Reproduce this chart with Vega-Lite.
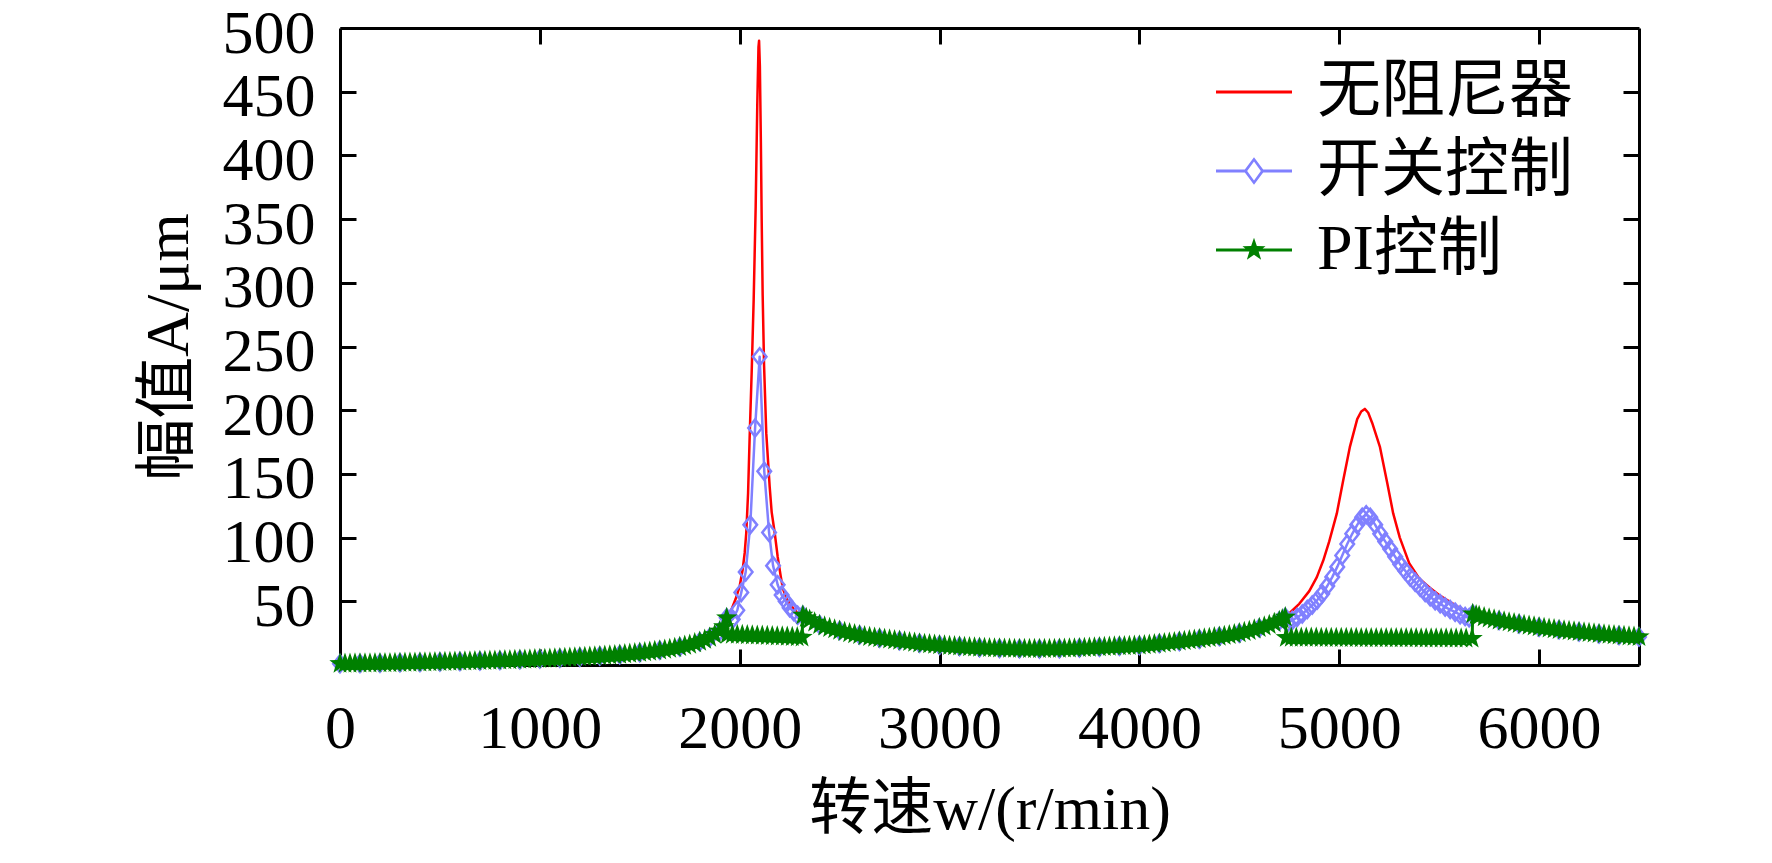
{
  "$schema": "https://vega.github.io/schema/vega-lite/v6.json",
  "width": 1299,
  "height": 637,
  "autosize": {"type": "none"},
  "padding": {"left": 340, "top": 28, "right": 133, "bottom": 198},
  "background": "white",
  "data": {
    "values": [
      {"s": "无阻尼器", "w": 0, "A": 1.0}, {"s": "无阻尼器", "w": 100, "A": 1.2}, {"s": "无阻尼器", "w": 200, "A": 1.4}, {"s": "无阻尼器", "w": 300, "A": 1.7},
      {"s": "无阻尼器", "w": 400, "A": 2.0}, {"s": "无阻尼器", "w": 500, "A": 2.3}, {"s": "无阻尼器", "w": 600, "A": 2.7}, {"s": "无阻尼器", "w": 700, "A": 3.1},
      {"s": "无阻尼器", "w": 800, "A": 3.6}, {"s": "无阻尼器", "w": 900, "A": 4.1}, {"s": "无阻尼器", "w": 1000, "A": 4.7}, {"s": "无阻尼器", "w": 1100, "A": 5.3},
      {"s": "无阻尼器", "w": 1200, "A": 6.1}, {"s": "无阻尼器", "w": 1300, "A": 7.0}, {"s": "无阻尼器", "w": 1400, "A": 8.1}, {"s": "无阻尼器", "w": 1500, "A": 9.6},
      {"s": "无阻尼器", "w": 1600, "A": 11.5}, {"s": "无阻尼器", "w": 1700, "A": 14.2}, {"s": "无阻尼器", "w": 1800, "A": 18.3}, {"s": "无阻尼器", "w": 1850, "A": 21.5},
      {"s": "无阻尼器", "w": 1900, "A": 26.5}, {"s": "无阻尼器", "w": 1925, "A": 31.5}, {"s": "无阻尼器", "w": 1940, "A": 38}, {"s": "无阻尼器", "w": 1960, "A": 44},
      {"s": "无阻尼器", "w": 1980, "A": 52}, {"s": "无阻尼器", "w": 2000, "A": 62}, {"s": "无阻尼器", "w": 2015, "A": 75}, {"s": "无阻尼器", "w": 2025, "A": 88},
      {"s": "无阻尼器", "w": 2033, "A": 104}, {"s": "无阻尼器", "w": 2042, "A": 135}, {"s": "无阻尼器", "w": 2050, "A": 180}, {"s": "无阻尼器", "w": 2060, "A": 230},
      {"s": "无阻尼器", "w": 2070, "A": 287}, {"s": "无阻尼器", "w": 2080, "A": 360}, {"s": "无阻尼器", "w": 2088, "A": 440}, {"s": "无阻尼器", "w": 2094, "A": 485},
      {"s": "无阻尼器", "w": 2097, "A": 490}, {"s": "无阻尼器", "w": 2101, "A": 470}, {"s": "无阻尼器", "w": 2106, "A": 410}, {"s": "无阻尼器", "w": 2110, "A": 350},
      {"s": "无阻尼器", "w": 2115, "A": 290}, {"s": "无阻尼器", "w": 2122, "A": 235}, {"s": "无阻尼器", "w": 2133, "A": 182}, {"s": "无阻尼器", "w": 2150, "A": 140},
      {"s": "无阻尼器", "w": 2160, "A": 120}, {"s": "无阻尼器", "w": 2175, "A": 104}, {"s": "无阻尼器", "w": 2190, "A": 85}, {"s": "无阻尼器", "w": 2205, "A": 70},
      {"s": "无阻尼器", "w": 2216, "A": 60}, {"s": "无阻尼器", "w": 2235, "A": 52}, {"s": "无阻尼器", "w": 2260, "A": 46}, {"s": "无阻尼器", "w": 2290, "A": 41},
      {"s": "无阻尼器", "w": 2316, "A": 39}, {"s": "无阻尼器", "w": 2400, "A": 31.5}, {"s": "无阻尼器", "w": 2500, "A": 27}, {"s": "无阻尼器", "w": 2600, "A": 23.5},
      {"s": "无阻尼器", "w": 2700, "A": 21}, {"s": "无阻尼器", "w": 2800, "A": 19}, {"s": "无阻尼器", "w": 2900, "A": 17}, {"s": "无阻尼器", "w": 3000, "A": 15.6},
      {"s": "无阻尼器", "w": 3100, "A": 14.5}, {"s": "无阻尼器", "w": 3200, "A": 13.6}, {"s": "无阻尼器", "w": 3300, "A": 13}, {"s": "无阻尼器", "w": 3400, "A": 12.7},
      {"s": "无阻尼器", "w": 3500, "A": 12.6}, {"s": "无阻尼器", "w": 3600, "A": 12.8}, {"s": "无阻尼器", "w": 3700, "A": 13.3}, {"s": "无阻尼器", "w": 3800, "A": 14},
      {"s": "无阻尼器", "w": 3900, "A": 14.7}, {"s": "无阻尼器", "w": 4000, "A": 15.3}, {"s": "无阻尼器", "w": 4100, "A": 16.8}, {"s": "无阻尼器", "w": 4200, "A": 18.5},
      {"s": "无阻尼器", "w": 4300, "A": 20.3}, {"s": "无阻尼器", "w": 4400, "A": 22.3}, {"s": "无阻尼器", "w": 4500, "A": 25}, {"s": "无阻尼器", "w": 4600, "A": 29},
      {"s": "无阻尼器", "w": 4700, "A": 34.5}, {"s": "无阻尼器", "w": 4730, "A": 37.5}, {"s": "无阻尼器", "w": 4760, "A": 42}, {"s": "无阻尼器", "w": 4800, "A": 48},
      {"s": "无阻尼器", "w": 4850, "A": 58}, {"s": "无阻尼器", "w": 4888, "A": 69}, {"s": "无阻尼器", "w": 4920, "A": 82}, {"s": "无阻尼器", "w": 4950, "A": 97},
      {"s": "无阻尼器", "w": 4988, "A": 119}, {"s": "无阻尼器", "w": 5020, "A": 145}, {"s": "无阻尼器", "w": 5053, "A": 171}, {"s": "无阻尼器", "w": 5090, "A": 193},
      {"s": "无阻尼器", "w": 5110, "A": 199}, {"s": "无阻尼器", "w": 5128, "A": 201}, {"s": "无阻尼器", "w": 5145, "A": 198}, {"s": "无阻尼器", "w": 5165, "A": 190},
      {"s": "无阻尼器", "w": 5204, "A": 171}, {"s": "无阻尼器", "w": 5240, "A": 143}, {"s": "无阻尼器", "w": 5270, "A": 119}, {"s": "无阻尼器", "w": 5303, "A": 100},
      {"s": "无阻尼器", "w": 5350, "A": 80}, {"s": "无阻尼器", "w": 5400, "A": 68}, {"s": "无阻尼器", "w": 5450, "A": 61}, {"s": "无阻尼器", "w": 5500, "A": 55},
      {"s": "无阻尼器", "w": 5550, "A": 50}, {"s": "无阻尼器", "w": 5600, "A": 45}, {"s": "无阻尼器", "w": 5640, "A": 42}, {"s": "无阻尼器", "w": 5668, "A": 40},
      {"s": "无阻尼器", "w": 5800, "A": 35}, {"s": "无阻尼器", "w": 5900, "A": 32.2}, {"s": "无阻尼器", "w": 6000, "A": 29.7}, {"s": "无阻尼器", "w": 6100, "A": 27.6},
      {"s": "无阻尼器", "w": 6200, "A": 25.9}, {"s": "无阻尼器", "w": 6300, "A": 24.4}, {"s": "无阻尼器", "w": 6400, "A": 23.1}, {"s": "无阻尼器", "w": 6500, "A": 22},

      {"s": "开关控制", "w": 0, "A": 1.0}, {"s": "开关控制", "w": 100, "A": 1.2}, {"s": "开关控制", "w": 200, "A": 1.4}, {"s": "开关控制", "w": 300, "A": 1.7},
      {"s": "开关控制", "w": 400, "A": 2.0}, {"s": "开关控制", "w": 500, "A": 2.3}, {"s": "开关控制", "w": 600, "A": 2.7}, {"s": "开关控制", "w": 700, "A": 3.1},
      {"s": "开关控制", "w": 800, "A": 3.6}, {"s": "开关控制", "w": 900, "A": 4.1}, {"s": "开关控制", "w": 1000, "A": 4.7}, {"s": "开关控制", "w": 1100, "A": 5.3},
      {"s": "开关控制", "w": 1200, "A": 6.1}, {"s": "开关控制", "w": 1300, "A": 7.0}, {"s": "开关控制", "w": 1400, "A": 8.1}, {"s": "开关控制", "w": 1500, "A": 9.6},
      {"s": "开关控制", "w": 1600, "A": 11.5}, {"s": "开关控制", "w": 1700, "A": 14.2}, {"s": "开关控制", "w": 1800, "A": 18.3}, {"s": "开关控制", "w": 1850, "A": 21.5},
      {"s": "开关控制", "w": 1900, "A": 26.5}, {"s": "开关控制", "w": 1935, "A": 37}, {"s": "开关控制", "w": 1965, "A": 36}, {"s": "开关控制", "w": 1988, "A": 43},
      {"s": "开关控制", "w": 2008, "A": 57}, {"s": "开关控制", "w": 2030, "A": 73}, {"s": "开关控制", "w": 2053, "A": 110}, {"s": "开关控制", "w": 2077, "A": 186},
      {"s": "开关控制", "w": 2100, "A": 242}, {"s": "开关控制", "w": 2123, "A": 152}, {"s": "开关控制", "w": 2147, "A": 104}, {"s": "开关控制", "w": 2167, "A": 78},
      {"s": "开关控制", "w": 2190, "A": 63}, {"s": "开关控制", "w": 2210, "A": 55}, {"s": "开关控制", "w": 2230, "A": 50}, {"s": "开关控制", "w": 2250, "A": 45},
      {"s": "开关控制", "w": 2270, "A": 42}, {"s": "开关控制", "w": 2290, "A": 39}, {"s": "开关控制", "w": 2316, "A": 39}, {"s": "开关控制", "w": 2400, "A": 31.5},
      {"s": "开关控制", "w": 2500, "A": 27}, {"s": "开关控制", "w": 2600, "A": 23.5}, {"s": "开关控制", "w": 2700, "A": 21}, {"s": "开关控制", "w": 2800, "A": 19},
      {"s": "开关控制", "w": 2900, "A": 17}, {"s": "开关控制", "w": 3000, "A": 15.6}, {"s": "开关控制", "w": 3100, "A": 14.5}, {"s": "开关控制", "w": 3200, "A": 13.6},
      {"s": "开关控制", "w": 3300, "A": 13}, {"s": "开关控制", "w": 3400, "A": 12.7}, {"s": "开关控制", "w": 3500, "A": 12.6}, {"s": "开关控制", "w": 3600, "A": 12.8},
      {"s": "开关控制", "w": 3700, "A": 13.3}, {"s": "开关控制", "w": 3800, "A": 14}, {"s": "开关控制", "w": 3900, "A": 14.7}, {"s": "开关控制", "w": 4000, "A": 15.3},
      {"s": "开关控制", "w": 4100, "A": 16.8}, {"s": "开关控制", "w": 4200, "A": 18.5}, {"s": "开关控制", "w": 4300, "A": 20.3}, {"s": "开关控制", "w": 4400, "A": 22.3},
      {"s": "开关控制", "w": 4500, "A": 25}, {"s": "开关控制", "w": 4600, "A": 29}, {"s": "开关控制", "w": 4700, "A": 34.5}, {"s": "开关控制", "w": 4730, "A": 37.5},
      {"s": "开关控制", "w": 4740, "A": 33}, {"s": "开关控制", "w": 4765, "A": 35}, {"s": "开关控制", "w": 4790, "A": 37.5}, {"s": "开关控制", "w": 4815, "A": 40},
      {"s": "开关控制", "w": 4840, "A": 43.5}, {"s": "开关控制", "w": 4865, "A": 47}, {"s": "开关控制", "w": 4890, "A": 51}, {"s": "开关控制", "w": 4915, "A": 56},
      {"s": "开关控制", "w": 4940, "A": 62}, {"s": "开关控制", "w": 4965, "A": 69}, {"s": "开关控制", "w": 4990, "A": 77}, {"s": "开关控制", "w": 5015, "A": 86},
      {"s": "开关控制", "w": 5040, "A": 95}, {"s": "开关控制", "w": 5065, "A": 103}, {"s": "开关控制", "w": 5090, "A": 110}, {"s": "开关控制", "w": 5115, "A": 116},
      {"s": "开关控制", "w": 5135, "A": 118}, {"s": "开关控制", "w": 5155, "A": 116}, {"s": "开关控制", "w": 5180, "A": 110}, {"s": "开关控制", "w": 5205, "A": 103},
      {"s": "开关控制", "w": 5230, "A": 97}, {"s": "开关控制", "w": 5255, "A": 91}, {"s": "开关控制", "w": 5280, "A": 85}, {"s": "开关控制", "w": 5305, "A": 79},
      {"s": "开关控制", "w": 5330, "A": 74}, {"s": "开关控制", "w": 5355, "A": 69}, {"s": "开关控制", "w": 5380, "A": 65}, {"s": "开关控制", "w": 5405, "A": 61},
      {"s": "开关控制", "w": 5430, "A": 57}, {"s": "开关控制", "w": 5455, "A": 53.5}, {"s": "开关控制", "w": 5480, "A": 50.5}, {"s": "开关控制", "w": 5505, "A": 48},
      {"s": "开关控制", "w": 5530, "A": 45.5}, {"s": "开关控制", "w": 5555, "A": 43.5}, {"s": "开关控制", "w": 5580, "A": 41.5}, {"s": "开关控制", "w": 5605, "A": 39.5},
      {"s": "开关控制", "w": 5630, "A": 38}, {"s": "开关控制", "w": 5650, "A": 37}, {"s": "开关控制", "w": 5668, "A": 40}, {"s": "开关控制", "w": 5800, "A": 35},
      {"s": "开关控制", "w": 5900, "A": 32.2}, {"s": "开关控制", "w": 6000, "A": 29.7}, {"s": "开关控制", "w": 6100, "A": 27.6}, {"s": "开关控制", "w": 6200, "A": 25.9},
      {"s": "开关控制", "w": 6300, "A": 24.4}, {"s": "开关控制", "w": 6400, "A": 23.1}, {"s": "开关控制", "w": 6500, "A": 22},

      {"s": "PI控制", "w": 0, "A": 1.0}, {"s": "PI控制", "w": 25, "A": 1.05}, {"s": "PI控制", "w": 50, "A": 1.1}, {"s": "PI控制", "w": 75, "A": 1.15},
      {"s": "PI控制", "w": 100, "A": 1.2}, {"s": "PI控制", "w": 125, "A": 1.25}, {"s": "PI控制", "w": 150, "A": 1.3}, {"s": "PI控制", "w": 175, "A": 1.35},
      {"s": "PI控制", "w": 200, "A": 1.4}, {"s": "PI控制", "w": 225, "A": 1.45}, {"s": "PI控制", "w": 250, "A": 1.5}, {"s": "PI控制", "w": 275, "A": 1.6},
      {"s": "PI控制", "w": 300, "A": 1.7}, {"s": "PI控制", "w": 325, "A": 1.75}, {"s": "PI控制", "w": 350, "A": 1.8}, {"s": "PI控制", "w": 375, "A": 1.9},
      {"s": "PI控制", "w": 400, "A": 2.0}, {"s": "PI控制", "w": 425, "A": 2.05}, {"s": "PI控制", "w": 450, "A": 2.1}, {"s": "PI控制", "w": 475, "A": 2.2},
      {"s": "PI控制", "w": 500, "A": 2.3}, {"s": "PI控制", "w": 525, "A": 2.4}, {"s": "PI控制", "w": 550, "A": 2.5}, {"s": "PI控制", "w": 575, "A": 2.6},
      {"s": "PI控制", "w": 600, "A": 2.7}, {"s": "PI控制", "w": 625, "A": 2.8}, {"s": "PI控制", "w": 650, "A": 2.9}, {"s": "PI控制", "w": 675, "A": 3.0},
      {"s": "PI控制", "w": 700, "A": 3.1}, {"s": "PI控制", "w": 725, "A": 3.2}, {"s": "PI控制", "w": 750, "A": 3.3}, {"s": "PI控制", "w": 775, "A": 3.45},
      {"s": "PI控制", "w": 800, "A": 3.6}, {"s": "PI控制", "w": 825, "A": 3.7}, {"s": "PI控制", "w": 850, "A": 3.8}, {"s": "PI控制", "w": 875, "A": 3.95},
      {"s": "PI控制", "w": 900, "A": 4.1}, {"s": "PI控制", "w": 925, "A": 4.25}, {"s": "PI控制", "w": 950, "A": 4.4}, {"s": "PI控制", "w": 975, "A": 4.55},
      {"s": "PI控制", "w": 1000, "A": 4.7}, {"s": "PI控制", "w": 1025, "A": 4.85}, {"s": "PI控制", "w": 1050, "A": 5.0}, {"s": "PI控制", "w": 1075, "A": 5.15},
      {"s": "PI控制", "w": 1100, "A": 5.3}, {"s": "PI控制", "w": 1125, "A": 5.5}, {"s": "PI控制", "w": 1150, "A": 5.7}, {"s": "PI控制", "w": 1175, "A": 5.9},
      {"s": "PI控制", "w": 1200, "A": 6.1}, {"s": "PI控制", "w": 1225, "A": 6.3}, {"s": "PI控制", "w": 1250, "A": 6.5}, {"s": "PI控制", "w": 1275, "A": 6.75},
      {"s": "PI控制", "w": 1300, "A": 7.0}, {"s": "PI控制", "w": 1325, "A": 7.25}, {"s": "PI控制", "w": 1350, "A": 7.5}, {"s": "PI控制", "w": 1375, "A": 7.8},
      {"s": "PI控制", "w": 1400, "A": 8.1}, {"s": "PI控制", "w": 1425, "A": 8.45}, {"s": "PI控制", "w": 1450, "A": 8.8}, {"s": "PI控制", "w": 1475, "A": 9.2},
      {"s": "PI控制", "w": 1500, "A": 9.6}, {"s": "PI控制", "w": 1525, "A": 10.0}, {"s": "PI控制", "w": 1550, "A": 10.5}, {"s": "PI控制", "w": 1575, "A": 11.0},
      {"s": "PI控制", "w": 1600, "A": 11.5}, {"s": "PI控制", "w": 1625, "A": 12.1}, {"s": "PI控制", "w": 1650, "A": 12.7}, {"s": "PI控制", "w": 1675, "A": 13.4},
      {"s": "PI控制", "w": 1700, "A": 14.2}, {"s": "PI控制", "w": 1725, "A": 15.1}, {"s": "PI控制", "w": 1750, "A": 16.0}, {"s": "PI控制", "w": 1775, "A": 17.1},
      {"s": "PI控制", "w": 1800, "A": 18.3}, {"s": "PI控制", "w": 1825, "A": 19.8}, {"s": "PI控制", "w": 1850, "A": 21.5}, {"s": "PI控制", "w": 1875, "A": 23.8},
      {"s": "PI控制", "w": 1900, "A": 26.5}, {"s": "PI控制", "w": 1920, "A": 30}, {"s": "PI控制", "w": 1935, "A": 37},
      {"s": "PI控制", "w": 1938, "A": 24}, {"s": "PI控制", "w": 1963, "A": 23.85}, {"s": "PI控制", "w": 1988, "A": 23.7}, {"s": "PI控制", "w": 2013, "A": 23.55},
      {"s": "PI控制", "w": 2038, "A": 23.4}, {"s": "PI控制", "w": 2063, "A": 23.25}, {"s": "PI控制", "w": 2088, "A": 23.1}, {"s": "PI控制", "w": 2113, "A": 22.95},
      {"s": "PI控制", "w": 2138, "A": 22.8}, {"s": "PI控制", "w": 2163, "A": 22.65}, {"s": "PI控制", "w": 2188, "A": 22.5}, {"s": "PI控制", "w": 2213, "A": 22.35},
      {"s": "PI控制", "w": 2238, "A": 22.2}, {"s": "PI控制", "w": 2263, "A": 22.05}, {"s": "PI控制", "w": 2288, "A": 21.9}, {"s": "PI控制", "w": 2312, "A": 21.7},
      {"s": "PI控制", "w": 2316, "A": 39}, {"s": "PI控制", "w": 2333, "A": 37}, {"s": "PI控制", "w": 2350, "A": 35.5}, {"s": "PI控制", "w": 2375, "A": 33.4},
      {"s": "PI控制", "w": 2400, "A": 31.5}, {"s": "PI控制", "w": 2425, "A": 30.2}, {"s": "PI控制", "w": 2450, "A": 29}, {"s": "PI控制", "w": 2475, "A": 28},
      {"s": "PI控制", "w": 2500, "A": 27}, {"s": "PI控制", "w": 2525, "A": 26}, {"s": "PI控制", "w": 2550, "A": 25}, {"s": "PI控制", "w": 2575, "A": 24.2},
      {"s": "PI控制", "w": 2600, "A": 23.5}, {"s": "PI控制", "w": 2625, "A": 22.7}, {"s": "PI控制", "w": 2650, "A": 22}, {"s": "PI控制", "w": 2675, "A": 21.5},
      {"s": "PI控制", "w": 2700, "A": 21}, {"s": "PI控制", "w": 2725, "A": 20.5}, {"s": "PI控制", "w": 2750, "A": 20}, {"s": "PI控制", "w": 2775, "A": 19.5},
      {"s": "PI控制", "w": 2800, "A": 19}, {"s": "PI控制", "w": 2825, "A": 18.5}, {"s": "PI控制", "w": 2850, "A": 18}, {"s": "PI控制", "w": 2875, "A": 17.5},
      {"s": "PI控制", "w": 2900, "A": 17}, {"s": "PI控制", "w": 2925, "A": 16.6}, {"s": "PI控制", "w": 2950, "A": 16.3}, {"s": "PI控制", "w": 2975, "A": 15.9},
      {"s": "PI控制", "w": 3000, "A": 15.6}, {"s": "PI控制", "w": 3025, "A": 15.3}, {"s": "PI控制", "w": 3050, "A": 15}, {"s": "PI控制", "w": 3075, "A": 14.7},
      {"s": "PI控制", "w": 3100, "A": 14.5}, {"s": "PI控制", "w": 3125, "A": 14.2}, {"s": "PI控制", "w": 3150, "A": 14}, {"s": "PI控制", "w": 3175, "A": 13.8},
      {"s": "PI控制", "w": 3200, "A": 13.6}, {"s": "PI控制", "w": 3225, "A": 13.4}, {"s": "PI控制", "w": 3250, "A": 13.3}, {"s": "PI控制", "w": 3275, "A": 13.1},
      {"s": "PI控制", "w": 3300, "A": 13}, {"s": "PI控制", "w": 3325, "A": 12.9}, {"s": "PI控制", "w": 3350, "A": 12.8}, {"s": "PI控制", "w": 3375, "A": 12.7},
      {"s": "PI控制", "w": 3400, "A": 12.7}, {"s": "PI控制", "w": 3425, "A": 12.6}, {"s": "PI控制", "w": 3450, "A": 12.6}, {"s": "PI控制", "w": 3475, "A": 12.6},
      {"s": "PI控制", "w": 3500, "A": 12.6}, {"s": "PI控制", "w": 3525, "A": 12.6}, {"s": "PI控制", "w": 3550, "A": 12.7}, {"s": "PI控制", "w": 3575, "A": 12.7},
      {"s": "PI控制", "w": 3600, "A": 12.8}, {"s": "PI控制", "w": 3625, "A": 12.9}, {"s": "PI控制", "w": 3650, "A": 13}, {"s": "PI控制", "w": 3675, "A": 13.1},
      {"s": "PI控制", "w": 3700, "A": 13.3}, {"s": "PI控制", "w": 3725, "A": 13.4}, {"s": "PI控制", "w": 3750, "A": 13.6}, {"s": "PI控制", "w": 3775, "A": 13.8},
      {"s": "PI控制", "w": 3800, "A": 14}, {"s": "PI控制", "w": 3825, "A": 14.1}, {"s": "PI控制", "w": 3850, "A": 14.3}, {"s": "PI控制", "w": 3875, "A": 14.5},
      {"s": "PI控制", "w": 3900, "A": 14.7}, {"s": "PI控制", "w": 3925, "A": 14.8}, {"s": "PI控制", "w": 3950, "A": 15}, {"s": "PI控制", "w": 3975, "A": 15.1},
      {"s": "PI控制", "w": 4000, "A": 15.3}, {"s": "PI控制", "w": 4025, "A": 15.6}, {"s": "PI控制", "w": 4050, "A": 16}, {"s": "PI控制", "w": 4075, "A": 16.4},
      {"s": "PI控制", "w": 4100, "A": 16.8}, {"s": "PI控制", "w": 4125, "A": 17.2}, {"s": "PI控制", "w": 4150, "A": 17.6}, {"s": "PI控制", "w": 4175, "A": 18},
      {"s": "PI控制", "w": 4200, "A": 18.5}, {"s": "PI控制", "w": 4225, "A": 18.9}, {"s": "PI控制", "w": 4250, "A": 19.4}, {"s": "PI控制", "w": 4275, "A": 19.8},
      {"s": "PI控制", "w": 4300, "A": 20.3}, {"s": "PI控制", "w": 4325, "A": 20.8}, {"s": "PI控制", "w": 4350, "A": 21.3}, {"s": "PI控制", "w": 4375, "A": 21.8},
      {"s": "PI控制", "w": 4400, "A": 22.3}, {"s": "PI控制", "w": 4425, "A": 22.9}, {"s": "PI控制", "w": 4450, "A": 23.5}, {"s": "PI控制", "w": 4475, "A": 24.2},
      {"s": "PI控制", "w": 4500, "A": 25}, {"s": "PI控制", "w": 4525, "A": 25.9}, {"s": "PI控制", "w": 4550, "A": 26.8}, {"s": "PI控制", "w": 4575, "A": 27.9},
      {"s": "PI控制", "w": 4600, "A": 29}, {"s": "PI控制", "w": 4625, "A": 30.2}, {"s": "PI控制", "w": 4650, "A": 31.5}, {"s": "PI控制", "w": 4675, "A": 33},
      {"s": "PI控制", "w": 4700, "A": 34.5}, {"s": "PI控制", "w": 4715, "A": 36}, {"s": "PI控制", "w": 4730, "A": 37.5},
      {"s": "PI控制", "w": 4735, "A": 21.5}, {"s": "PI控制", "w": 4760, "A": 21.5}, {"s": "PI控制", "w": 4785, "A": 21.5}, {"s": "PI控制", "w": 4810, "A": 21.4},
      {"s": "PI控制", "w": 4835, "A": 21.4}, {"s": "PI控制", "w": 4860, "A": 21.4}, {"s": "PI控制", "w": 4885, "A": 21.4}, {"s": "PI控制", "w": 4910, "A": 21.3},
      {"s": "PI控制", "w": 4935, "A": 21.3}, {"s": "PI控制", "w": 4960, "A": 21.3}, {"s": "PI控制", "w": 4985, "A": 21.3}, {"s": "PI控制", "w": 5010, "A": 21.2},
      {"s": "PI控制", "w": 5035, "A": 21.2}, {"s": "PI控制", "w": 5060, "A": 21.2}, {"s": "PI控制", "w": 5085, "A": 21.2}, {"s": "PI控制", "w": 5110, "A": 21.1},
      {"s": "PI控制", "w": 5135, "A": 21.1}, {"s": "PI控制", "w": 5160, "A": 21.1}, {"s": "PI控制", "w": 5185, "A": 21.1}, {"s": "PI控制", "w": 5210, "A": 21.1},
      {"s": "PI控制", "w": 5235, "A": 21.1}, {"s": "PI控制", "w": 5260, "A": 21}, {"s": "PI控制", "w": 5285, "A": 21}, {"s": "PI控制", "w": 5310, "A": 21},
      {"s": "PI控制", "w": 5335, "A": 21}, {"s": "PI控制", "w": 5360, "A": 21}, {"s": "PI控制", "w": 5385, "A": 21}, {"s": "PI控制", "w": 5410, "A": 20.9},
      {"s": "PI控制", "w": 5435, "A": 20.9}, {"s": "PI控制", "w": 5460, "A": 20.9}, {"s": "PI控制", "w": 5485, "A": 20.9}, {"s": "PI控制", "w": 5510, "A": 20.9},
      {"s": "PI控制", "w": 5535, "A": 20.9}, {"s": "PI控制", "w": 5560, "A": 20.8}, {"s": "PI控制", "w": 5585, "A": 20.8}, {"s": "PI控制", "w": 5610, "A": 20.8},
      {"s": "PI控制", "w": 5635, "A": 20.8}, {"s": "PI控制", "w": 5665, "A": 20.8},
      {"s": "PI控制", "w": 5668, "A": 40}, {"s": "PI控制", "w": 5685, "A": 39.2}, {"s": "PI控制", "w": 5700, "A": 38.5}, {"s": "PI控制", "w": 5725, "A": 37.5},
      {"s": "PI控制", "w": 5750, "A": 36.6}, {"s": "PI控制", "w": 5775, "A": 35.8}, {"s": "PI控制", "w": 5800, "A": 35}, {"s": "PI控制", "w": 5825, "A": 34.2},
      {"s": "PI控制", "w": 5850, "A": 33.5}, {"s": "PI控制", "w": 5875, "A": 32.8}, {"s": "PI控制", "w": 5900, "A": 32.2}, {"s": "PI控制", "w": 5925, "A": 31.5},
      {"s": "PI控制", "w": 5950, "A": 30.9}, {"s": "PI控制", "w": 5975, "A": 30.3}, {"s": "PI控制", "w": 6000, "A": 29.7}, {"s": "PI控制", "w": 6025, "A": 29.1},
      {"s": "PI控制", "w": 6050, "A": 28.6}, {"s": "PI控制", "w": 6075, "A": 28.1}, {"s": "PI控制", "w": 6100, "A": 27.6}, {"s": "PI控制", "w": 6125, "A": 27.1},
      {"s": "PI控制", "w": 6150, "A": 26.7}, {"s": "PI控制", "w": 6175, "A": 26.3}, {"s": "PI控制", "w": 6200, "A": 25.9}, {"s": "PI控制", "w": 6225, "A": 25.5},
      {"s": "PI控制", "w": 6250, "A": 25.1}, {"s": "PI控制", "w": 6275, "A": 24.7}, {"s": "PI控制", "w": 6300, "A": 24.4}, {"s": "PI控制", "w": 6325, "A": 24},
      {"s": "PI控制", "w": 6350, "A": 23.7}, {"s": "PI控制", "w": 6375, "A": 23.4}, {"s": "PI控制", "w": 6400, "A": 23.1}, {"s": "PI控制", "w": 6425, "A": 22.8},
      {"s": "PI控制", "w": 6450, "A": 22.5}, {"s": "PI控制", "w": 6475, "A": 22.2}, {"s": "PI控制", "w": 6500, "A": 22}
    ]
  },
  "resolve": {
    "scale": {"x": "independent", "y": "independent"},
    "axis": {"x": "independent", "y": "independent"}
  },
  "layer": [
    {
      "transform": [{"filter": "datum.s === '无阻尼器'"}],
      "mark": {"type": "line", "color": "#ff0000", "strokeWidth": 2.5, "strokeJoin": "round"},
      "encoding": {
        "x": {"field": "w", "type": "quantitative", "scale": {"domain": [0, 6500], "nice": false, "zero": false},
              "axis": {"orient": "top", "values": [1000, 2000, 3000, 4000, 5000, 6000], "labels": false, "title": null}},
        "y": {"field": "A", "type": "quantitative", "scale": {"domain": [0, 500], "nice": false},
              "axis": {"orient": "right", "values": [50, 100, 150, 200, 250, 300, 350, 400, 450], "labels": false, "title": null}}
      }
    },
    {
      "transform": [{"filter": "datum.s === '开关控制'"}],
      "mark": {"type": "line", "color": "#8080ff", "strokeWidth": 2.5, "strokeJoin": "round"},
      "encoding": {
        "x": {"field": "w", "type": "quantitative", "scale": {"domain": [0, 6500], "nice": false, "zero": false},
              "axis": {"orient": "bottom", "values": [0, 1000, 2000, 3000, 4000, 5000, 6000], "format": "d", "title": "转速w/(r/min)", "labelPadding": 49, "titlePadding": 20}},
        "y": {"field": "A", "type": "quantitative", "scale": {"domain": [0, 500], "nice": false},
              "axis": {"orient": "left", "values": [50, 100, 150, 200, 250, 300, 350, 400, 450, 500], "format": "d", "title": "幅值A/μm", "labelPadding": 41, "labelOffset": 5, "titlePadding": 22}}
      }
    },
    {
      "transform": [{"filter": "datum.s === '开关控制'"}],
      "mark": {"type": "point", "shape": "M0,-1L0.8,0L0,1L-0.8,0Z", "filled": false, "color": "#8080ff", "strokeWidth": 2.5, "size": 289, "opacity": 1},
      "encoding": {
        "x": {"field": "w", "type": "quantitative", "scale": {"domain": [0, 6500], "nice": false, "zero": false}, "axis": null},
        "y": {"field": "A", "type": "quantitative", "scale": {"domain": [0, 500], "nice": false}, "axis": null}
      }
    },
    {
      "transform": [{"filter": "datum.s === 'PI控制'"}],
      "mark": {"type": "line", "color": "#008000", "strokeWidth": 3, "strokeJoin": "round"},
      "encoding": {
        "x": {"field": "w", "type": "quantitative", "scale": {"domain": [0, 6500], "nice": false, "zero": false}, "axis": null},
        "y": {"field": "A", "type": "quantitative", "scale": {"domain": [0, 500], "nice": false}, "axis": null}
      }
    },
    {
      "transform": [{"filter": "datum.s === 'PI控制'"}],
      "mark": {"type": "point", "shape": "M0,-1L0.235,-0.324L0.951,-0.309L0.38,0.124L0.588,0.809L0,0.4L-0.588,0.809L-0.38,0.124L-0.951,-0.309L-0.235,-0.324Z",
               "filled": true, "color": "#008000", "strokeWidth": 0, "size": 500, "opacity": 1},
      "encoding": {
        "x": {"field": "w", "type": "quantitative", "scale": {"domain": [0, 6500], "nice": false, "zero": false}, "axis": null},
        "y": {"field": "A", "type": "quantitative", "scale": {"domain": [0, 500], "nice": false}, "axis": null}
      }
    },
    {
      "transform": [{"filter": "datum.w === 0"}],
      "mark": {"type": "point", "filled": true, "opacity": 0},
      "encoding": {
        "x": {"field": "w", "type": "quantitative", "scale": {"domain": [0, 6500], "nice": false, "zero": false}, "axis": null},
        "y": {"field": "A", "type": "quantitative", "scale": {"domain": [0, 500], "nice": false}, "axis": null},
        "color": {
          "field": "s", "type": "nominal",
          "scale": {"domain": ["无阻尼器", "开关控制", "PI控制"], "range": ["#ff0000", "#8080ff", "#008000"]},
          "legend": {"title": null, "orient": "none", "legendX": 876, "legendY": 26}
        },
        "shape": {
          "field": "s", "type": "nominal",
          "scale": {
            "domain": ["无阻尼器", "开关控制", "PI控制"],
            "range": [
              "M-1,-0.04H1V0.04H-1Z",
              "M-1,-0.04H-0.24V0.04H-1ZM0.24,-0.04H1V0.04H0.24ZM0,-0.36L0.27,0L0,0.36L-0.27,0ZM0,-0.25L-0.18,0L0,0.25L0.18,0Z",
              "M-1,-0.04H1V0.04H-1ZM0,-0.32L0.075,-0.104L0.304,-0.099L0.122,0.04L0.188,0.259L0,0.128L-0.188,0.259L-0.122,0.04L-0.304,-0.099L-0.075,-0.104Z"
            ]
          },
          "legend": {"title": null, "orient": "none", "legendX": 876, "legendY": 26}
        }
      }
    }
  ],
  "config": {
    "view": {"stroke": null},
    "axis": {
      "grid": false,
      "zindex": 1,
      "domainColor": "black",
      "domainWidth": 3,
      "tickColor": "black",
      "tickWidth": 3,
      "tickSize": -16,
      "labelFont": "Liberation Serif",
      "labelFontSize": 62,
      "labelColor": "black",
      "labelOverlap": false,
      "labelFlush": false,
      "titleFont": "Liberation Serif, Noto Sans CJK SC",
      "titleFontSize": 62,
      "titleFontWeight": "normal",
      "titleColor": "black"
    },
    "legend": {
      "padding": 0,
      "symbolSize": 5776,
      "symbolStrokeWidth": 0,
      "symbolOpacity": 1,
      "labelFont": "Liberation Serif, Noto Sans CJK SC",
      "labelFontSize": 64,
      "labelColor": "black",
      "labelOffset": 25,
      "labelLimit": 2000,
      "rowPadding": 9
    }
  }
}
